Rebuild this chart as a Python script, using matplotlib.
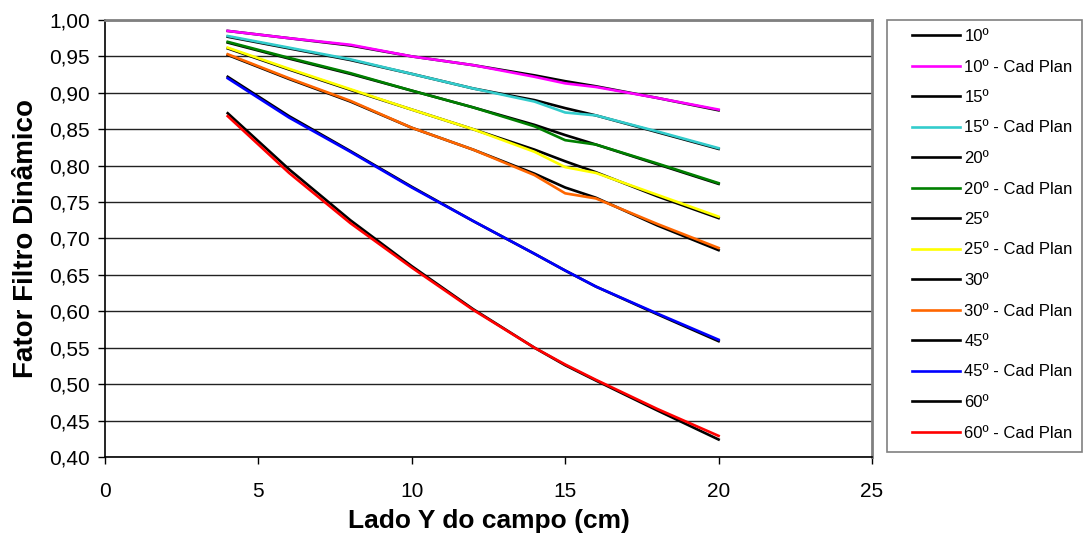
import matplotlib
matplotlib.use("Agg")
import matplotlib.pyplot as plt
from matplotlib.patches import Rectangle
from matplotlib.ticker import FuncFormatter

plt.rcParams['font.family'] = ['Liberation Sans', 'DejaVu Sans']

# lado Y do campo (cm)
lado_y = [4, 6, 8, 10, 12, 14, 15, 16, 18, 20]

# medido (preto) e Cad Plan (colorido) por angulo do filtro
f10 = [0.985, 0.975, 0.965, 0.950, 0.938, 0.924, 0.916, 0.909, 0.893, 0.876]
f10_cad = [0.985, 0.975, 0.966, 0.950, 0.938, 0.922, 0.913, 0.908, 0.893, 0.877]
f15 = [0.977, 0.961, 0.945, 0.926, 0.906, 0.890, 0.879, 0.869, 0.846, 0.823]
f15_cad = [0.978, 0.962, 0.946, 0.926, 0.906, 0.888, 0.873, 0.869, 0.847, 0.824]
f20 = [0.969, 0.947, 0.926, 0.903, 0.880, 0.856, 0.842, 0.829, 0.802, 0.775]
f20_cad = [0.970, 0.948, 0.927, 0.903, 0.880, 0.854, 0.835, 0.829, 0.803, 0.776]
f25 = [0.961, 0.932, 0.904, 0.877, 0.850, 0.822, 0.806, 0.791, 0.758, 0.728]
f25_cad = [0.962, 0.933, 0.905, 0.877, 0.850, 0.819, 0.798, 0.790, 0.760, 0.730]
f30 = [0.952, 0.919, 0.888, 0.852, 0.822, 0.789, 0.770, 0.756, 0.718, 0.684]
f30_cad = [0.953, 0.920, 0.889, 0.852, 0.822, 0.787, 0.762, 0.755, 0.720, 0.687]
f45 = [0.922, 0.868, 0.820, 0.771, 0.724, 0.679, 0.656, 0.634, 0.596, 0.559]
f45_cad = [0.920, 0.866, 0.819, 0.770, 0.724, 0.679, 0.656, 0.634, 0.597, 0.561]
f60 = [0.872, 0.795, 0.725, 0.662, 0.603, 0.550, 0.526, 0.505, 0.464, 0.424]
f60_cad = [0.868, 0.790, 0.721, 0.660, 0.602, 0.550, 0.527, 0.506, 0.466, 0.429]

series = [
    ('10º', f10, 'black'), ('10º - Cad Plan', f10_cad, '#FF00FF'),
    ('15º', f15, 'black'), ('15º - Cad Plan', f15_cad, '#33CCCC'),
    ('20º', f20, 'black'), ('20º - Cad Plan', f20_cad, '#008000'),
    ('25º', f25, 'black'), ('25º - Cad Plan', f25_cad, '#FFFF00'),
    ('30º', f30, 'black'), ('30º - Cad Plan', f30_cad, '#FF6600'),
    ('45º', f45, 'black'), ('45º - Cad Plan', f45_cad, '#0000FF'),
    ('60º', f60, 'black'), ('60º - Cad Plan', f60_cad, '#FF0000'),
]

W, H = 1085, 535
fig = plt.figure(figsize=(W / 100, H / 100), dpi=100)
ax = fig.add_axes([105/W, 1 - 457/H, 767/W, 437/H])

for label, vals, cor in series:
    ax.plot(lado_y, vals, color=cor, lw=1.9, label=label)

ax.set_xlim(0, 25)
ax.set_ylim(0.40, 1.00)
ax.set_xticks([0, 5, 10, 15, 20, 25])
ax.set_yticks([0.40 + 0.05 * i for i in range(13)])
ax.yaxis.set_major_formatter(FuncFormatter(lambda v, p: f'{v:.2f}'.replace('.', ',')))
ax.grid(axis='y', color='#222222', lw=1.0)
ax.set_axisbelow(True)
ax.tick_params(direction='out', length=5, width=1, labelsize=15, colors='black')
ax.tick_params(axis='x', pad=13)
ax.tick_params(axis='y', pad=6)

for s in ['top', 'right']:
    ax.spines[s].set_color('#808080')
    ax.spines[s].set_linewidth(2)
for s in ['left', 'bottom']:
    ax.spines[s].set_color('black')
    ax.spines[s].set_linewidth(1.2)

ax.set_xlabel('Lado Y do campo (cm)', fontsize=19, fontweight='bold', labelpad=6)
ax.set_ylabel('Fator Filtro Dinâmico', fontsize=20, fontweight='bold', labelpad=7)

# caixa da legenda desenhada a parte
fig.patches.append(Rectangle((887/W, 1 - 452/H), 195/W, 432/H, transform=fig.transFigure,
                             facecolor='white', edgecolor='#808080', lw=1.2))
leg = fig.legend(loc='upper left', bbox_to_anchor=(912/W, 1 - 29/H),
                 fontsize=12, frameon=False, borderaxespad=0, borderpad=0,
                 handlelength=2.9, handletextpad=0.25, labelspacing=0.93)

fig.savefig('out.png', dpi=100)
